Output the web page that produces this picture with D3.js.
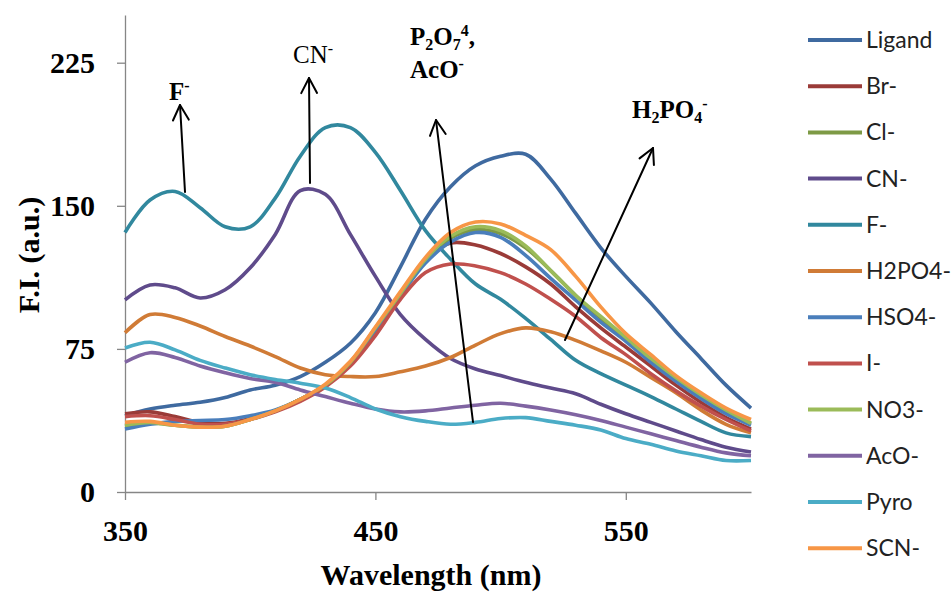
<!DOCTYPE html>
<html>
<head>
<meta charset="utf-8">
<script src="https://cdn.jsdelivr.net/npm/d3@7"></script>
<style>
  html, body { margin: 0; padding: 0; background: #ffffff; }
  svg { display: block; }
</style>
</head>
<body>
<svg id="chart" width="952" height="593"></svg>
<script>
// ---------------- DATA ----------------
const wavelengths = [350,360,370,380,390,400,410,420,430,440,450,460,470,480,490,500,510,520,530,540,550,560,570,580,590,600];
const seriesNames = ["Ligand","Br-","Cl-","CN-","F-","H2PO4-","HSO4-","I-","NO3-","AcO-","Pyro","SCN-"];
const ligand = [40,43.5,45.5,47,49.5,53.5,56,60.5,68,78,94,118,143,160,171,176,177,164,146,128,113,99,84,70,56,44];
const br     = [41,42,39.5,36.5,36,38.5,42.5,48.5,56,68,85,103,122,130.5,129.5,125,118,109,97,86,76,66,56,47,39,33];
const cl     = [34.5,36,35,34,34.5,38,42.5,48.5,56,68,85,103,121,133,137.5,135.5,128,116,103,91,80,69,59,50,42,36];
const cn     = [100.7,108.5,107,101.7,106,117.5,135,158,156,135,113,93,80,70,64.5,61,57.5,54.5,51.5,46,41,36.5,32,27.5,23.5,21];
const f      = [136,153,157.5,149,139,139,154,176,191,191,178,158,137,122,109,101,91,80,69,62,56,50,43.5,37,31,29];
const h2po4  = [83.5,93,91.5,87,81.5,76.5,71,65,61.5,60.5,60.5,63,66,70.5,77,83,86,84,79.5,74,68,60,52,43,35.5,31];
const hso4   = [33,35.5,37,37.5,38,40,43,48.5,56,68,85,103,120,131,136,133.5,124,112,100.5,89,79,68,58,49,41,35];
const iodide = [39.5,40,38,35.5,35.5,38,42,47.5,55,66,82,101,115,119.5,118.5,115,109,101,92,81,72,62,53,45,38,32];
const no3    = [35,36.5,35,34,34.5,38,42.5,48.5,56,68,86,104,122,134,139,137,129,116,103,92,81,70,60,51,43,36];
const aco    = [68,73,70.5,66,62.5,59.5,57.5,53.5,50,46.5,43.5,42,42.5,44,45.5,46.5,45,43,40.5,37.5,34,30.5,27,23.5,20.5,19];
const pyro   = [75.5,78.5,74.5,69,65,61.5,59,57,54.5,49.5,43.5,39.5,37,35.5,36.5,38.5,39,37,35,32.5,28,25,21.5,19,16.5,16.5];
const scn    = [36.5,37,35,34,34.5,38,42.5,48.5,56.5,68.5,86.5,105,123,136,141.5,140.5,134.5,127,113,97,83,72,61,52,44,38];
const seriesColors = ["#3F6AA0","#9A3B38","#7D9A45","#5F4B8B","#31889E","#D07B36","#4A7EBB","#C0504D","#9BBB59","#8064A2","#4BACC6","#F79646"];
const xTicks = [350,450,550];
const yTicks = [0,75,150,225];

const allSeries = [ligand, br, cl, cn, f, h2po4, hso4, iodide, no3, aco, pyro, scn];

// ---------------- CHART ----------------
const svg = d3.select("#chart");
const x = d3.scaleLinear().domain([350, 600]).range([125, 751]);
const y = d3.scaleLinear().domain([0, 250]).range([492, 15]);

const serif = "'Liberation Serif', 'Times New Roman', serif";
const axisColor = "#868686";

// X axis
const gx = svg.append("g").attr("transform", `translate(0,${y(0)})`)
  .call(d3.axisBottom(x).tickValues(xTicks).tickSize(8).tickSizeOuter(0).tickPadding(20).tickFormat(d3.format("d")));
// Y axis
const gy = svg.append("g").attr("transform", `translate(${x(350)},0)`)
  .call(d3.axisLeft(y).tickValues(yTicks).tickSize(8).tickSizeOuter(0).tickPadding(22).tickFormat(d3.format("d")));

[gx, gy].forEach(g => {
  g.select(".domain").attr("stroke", axisColor).attr("stroke-width", 1.3);
  g.selectAll(".tick line").attr("stroke", axisColor).attr("stroke-width", 1.3);
  g.selectAll(".tick text").attr("fill", "#000").style("font-family", serif)
    .style("font-weight", "bold").style("font-size", "30px");
});

// Lines
const line = d3.line()
  .x((d, i) => x(wavelengths[i]))
  .y(d => y(d))
  .curve(d3.curveCatmullRom.alpha(0.5));

svg.append("g").selectAll("path.series")
  .data(allSeries)
  .join("path")
  .attr("class", "series")
  .attr("fill", "none")
  .attr("stroke", (d, i) => seriesColors[i])
  .attr("stroke-width", 3.6)
  .attr("stroke-linejoin", "round")
  .attr("d", d => line(d));

// Axis titles
svg.append("text")
  .attr("x", 431).attr("y", 585)
  .attr("text-anchor", "middle")
  .style("font-family", serif).style("font-weight", "bold").style("font-size", "30px")
  .text("Wavelength (nm)");

svg.append("text")
  .attr("transform", "translate(39,255) rotate(-90)")
  .attr("text-anchor", "middle")
  .style("font-family", serif).style("font-weight", "bold").style("font-size", "30px")
  .text("F.I. (a.u.)");

// Annotations (arrows)
const ann = svg.append("g").attr("stroke", "#000").attr("stroke-width", 2).attr("fill", "none")
  .attr("stroke-linecap", "round").attr("stroke-linejoin", "round");
function arrow(x1, y1, x2, y2) {
  ann.append("line").attr("x1", x1).attr("y1", y1).attr("x2", x2).attr("y2", y2);
  const ang = Math.atan2(y2 - y1, x2 - x1);
  const len = 17, spread = Math.PI / 6.5;
  const p1 = [x2 - len * Math.cos(ang - spread), y2 - len * Math.sin(ang - spread)];
  const p2 = [x2 - len * Math.cos(ang + spread), y2 - len * Math.sin(ang + spread)];
  ann.append("path").attr("d", `M${p1[0]},${p1[1]} L${x2},${y2} L${p2[0]},${p2[1]}`);
}
arrow(185, 192, 180, 105);
arrow(310, 183, 309, 78);
arrow(473, 422, 436, 120);
arrow(565, 340, 653, 148);

function label(xp, yp, parts, weight) {
  const t = svg.append("text").attr("x", xp).attr("y", yp)
    .style("font-family", serif).style("font-weight", weight || "bold").style("font-size", "25px");
  let shift = 0;
  parts.forEach(p => {
    const target = p.type === "sup" ? -9 : p.type === "sub" ? 5 : 0;
    t.append("tspan")
      .attr("dy", target - shift)
      .style("font-size", p.type ? "16px" : "25px")
      .text(p.text);
    shift = target;
  });
}
label(169, 100, [{text: "F"}, {text: "-", type: "sup"}]);
label(293, 63, [{text: "CN"}, {text: "-", type: "sup"}], "normal");
label(410, 45, [{text: "P"}, {text: "2", type: "sub"}, {text: "O"}, {text: "7", type: "sub"}, {text: "4", type: "sup"}, {text: ","}]);
label(410, 78, [{text: "AcO"}, {text: "-", type: "sup"}]);
label(632, 118, [{text: "H"}, {text: "2", type: "sub"}, {text: "PO"}, {text: "4", type: "sub"}, {text: "-", type: "sup"}]);

// Legend
const legend = svg.append("g");
seriesNames.forEach((name, i) => {
  const ly = 40 + i * 46.2;
  legend.append("line").attr("x1", 808).attr("x2", 862).attr("y1", ly).attr("y2", ly)
    .attr("stroke", seriesColors[i]).attr("stroke-width", 4);
  legend.append("text").attr("x", 866).attr("y", ly).attr("dy", "0.35em")
    .style("font-family", "Lato, 'Open Sans', sans-serif").style("font-size", "23px").attr("fill", "#222")
    .text(name);
});
</script>
</body>
</html>
